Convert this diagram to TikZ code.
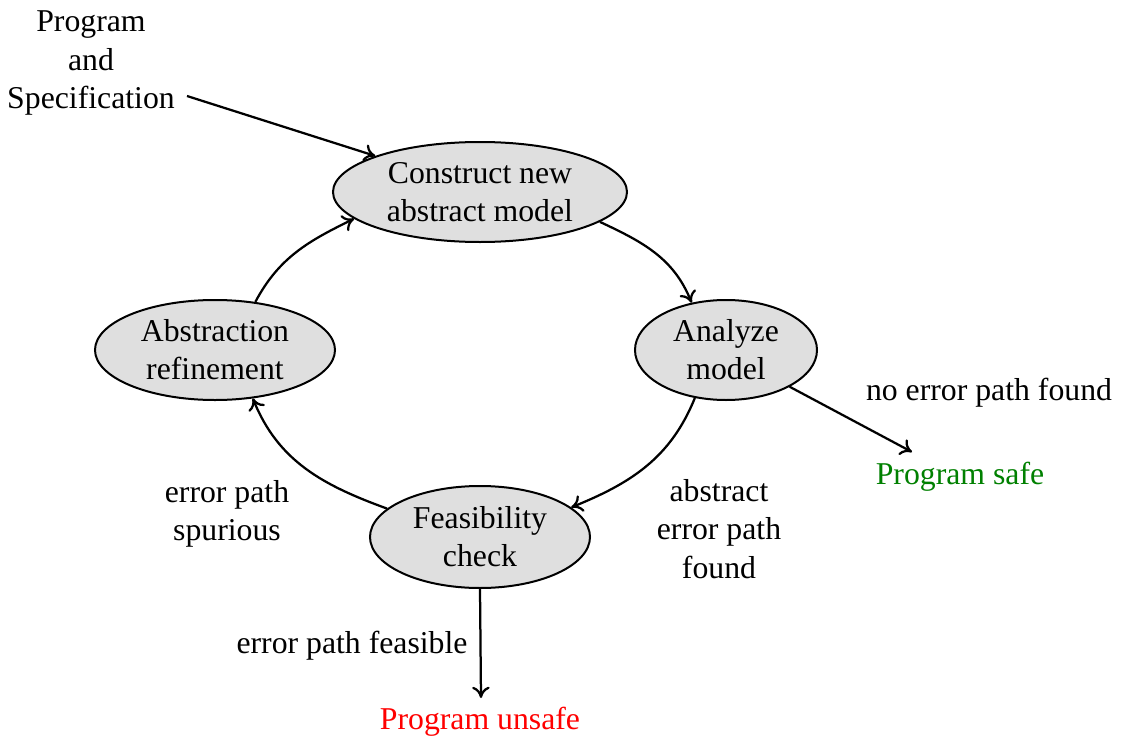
\documentclass[tikz,border=0pt]{standalone}
\usepackage{fontspec}
\setmainfont{Liberation Serif}
\usetikzlibrary{arrows.meta,shapes.geometric}
\begin{document}
\begin{tikzpicture}[x=0.4pt,y=-0.4pt,
  every node/.style={font=\fontsize{12.7}{15.3}\selectfont, align=center, inner sep=0pt},
  state/.style={ellipse, draw, fill=gray!25, line width=0.8pt},
  conn/.style={line width=0.9pt, -{To[length=4.5pt,width=7pt]}},
  lbl/.style={}]
\useasboundingbox (0,0) rectangle (1121,740);
\node[state, minimum width=117.6pt, minimum height=40pt] (c) at (480,192) {Construct new\\abstract model};
\node[state, minimum width=72.8pt, minimum height=40pt] (a) at (726,350) {Analyze\\model};
\node[state, minimum width=88pt, minimum height=40.8pt] (f) at (480,537) {Feasibility\\check};
\node[state, minimum width=96pt, minimum height=40pt] (r) at (215,350) {Abstraction\\refinement};
\node (spec) at (91,63) {Program\\and\\Specification};
\coordinate (s0) at (187,96);
\node[lbl] (nep) at (989,393) {no error path found};
\node[lbl, text=green!50!black] (safe) at (960,477) {Program safe};
\coordinate (safeend) at (912,452);
\node[lbl] (aep) at (719,529) {abstract\\error path\\found};
\node[lbl] (eps) at (227,514) {error path\\spurious};
\node[lbl] (epf) at (352,646) {error path feasible};
\node[lbl, text=red] (unsafe) at (480,722) {Program unsafe};
\coordinate (unsafeend) at (481,698);
\draw[conn] (s0) -- (c.161);
\draw[conn] (c.-14) to[out=-25, in=112] (a.126);
\draw[conn] (a.-123) to[out=-112, in=22] (f.18);
\draw[conn] (f.163) to[out=160, in=-68] (r.-52);
\draw[conn] (r.50) to[out=62, in=206] (c.192);
\draw[conn] (a.-30) -- (safeend);
\draw[conn] (f.south) -- (unsafeend);
\end{tikzpicture}
\end{document}
